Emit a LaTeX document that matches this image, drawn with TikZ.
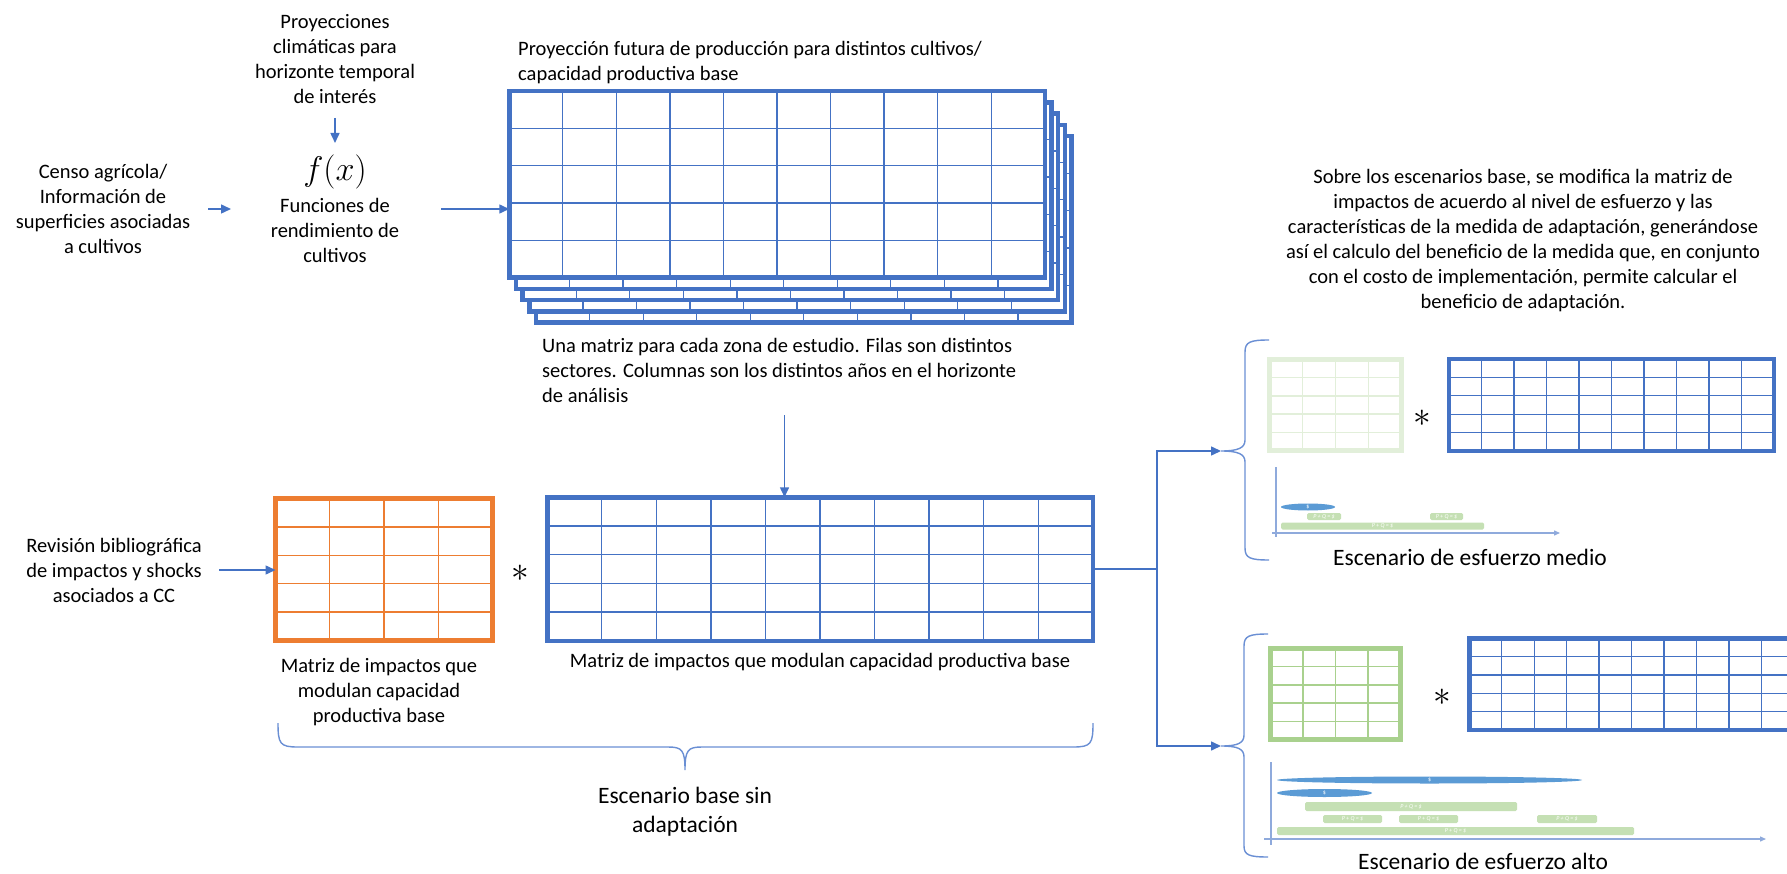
\documentclass[tikz,border=0pt]{standalone}
\usepackage{fontspec}
\setmainfont{Carlito}
\usetikzlibrary{arrows.meta,calc,shapes.geometric}
\definecolor{mblue}{HTML}{4472C4}
\definecolor{morange}{HTML}{ED7D31}
\definecolor{mgreen}{HTML}{A9D18E}
\definecolor{mlgreen}{HTML}{E2EFDA}
\definecolor{lblue}{HTML}{6A8FD4}
\definecolor{axblue}{HTML}{8FAADC}
\definecolor{barg}{HTML}{C5E0B4}
\definecolor{ellb}{HTML}{5B9BD5}
% #1 name, #2 colour, #3 x1, #4 y1, #5 x2, #6 y2, #7 cols, #8 rows, #9 border width
\newcommand{\gridmat}[9]{%
 \pgfmathsetmacro\gmcx{(#3+#5)/2}%
 \pgfmathsetmacro\gmcy{(#4+#6)/2}%
 \pgfmathsetmacro\gmw{#5-#3-#9}%
 \pgfmathsetmacro\gmh{#6-#4-#9}%
 \pgfmathtruncatemacro\gmc{#7-1}%
 \pgfmathtruncatemacro\gmr{#8-1}%
 \node[draw=#2, fill=white, line width=#9pt, minimum width=\gmw pt, minimum height=\gmh pt, inner sep=0pt, outer sep=0pt] (#1) at (\gmcx,\gmcy) {};
 \foreach \gmi in {1,...,\gmc} \draw[draw=#2, line width=1.3pt] ($(#1.north west)!\gmi/#7!(#1.north east)$) -- ($(#1.south west)!\gmi/#7!(#1.south east)$);
 \foreach \gmi in {1,...,\gmr} \draw[draw=#2, line width=1.3pt] ($(#1.north west)!\gmi/#8!(#1.south west)$) -- ($(#1.north east)!\gmi/#8!(#1.south east)$);
 \draw[draw=#2, line width=#9pt] (#1.north west) rectangle (#1.south east);
}
\tikzset{
 txt/.style={font=\fontsize{20.5}{25}\selectfont, align=center, inner sep=0pt},
 bigtxt/.style={font=\fontsize{23.5}{28.7}\selectfont, align=center, inner sep=0pt},
 conn/.style={draw=mblue, line width=1.5pt},
 arr/.style={conn, -{Triangle[length=10pt,width=9pt]}},
 bracel/.style={draw=lblue, line width=1.4pt},
 axisl/.style={draw=axblue, line width=1.3pt},
 axisarr/.style={axisl, -{Triangle[length=6pt,width=5pt]}},
 bar/.style={rectangle, fill=barg, rounded corners=1.5pt, inner sep=0pt, text=white, font=\fontsize{6}{6}\selectfont\itshape},
 ell/.style={ellipse, fill=ellb, inner sep=0pt, text=white, font=\fontsize{6}{6}\selectfont},
 astx/.style={inner sep=0pt, font=\fontsize{20}{20}\selectfont, scale=1.7},
}
\begin{document}
\begin{tikzpicture}[x=1pt,y=-1pt]
\useasboundingbox (0,0) rectangle (1787,874);
\clip (0,0) rectangle (1787,874);
\fill[white] (0,0) rectangle (1787,874);

% ---------- top left texts ----------
\node[txt] (proy) at (335,59.5) {Proyecciones\\climáticas para\\horizonte temporal\\de interés};
\node[inner sep=0pt, font=\fontsize{20}{20}\selectfont, scale=1.65] (fx) at (335,172) {$f(x)$};
\node[txt] (func) at (335,230) {Funciones de\\rendimiento de\\cultivos};
\node[txt] (censo) at (103,208.5) {Censo agrícola/\\Información de\\superficies asociadas\\a cultivos};

\coordinate (a2s) at (335,118);
\coordinate (a2e) at (335,143);
\draw[arr] (a2s) -- (a2e);
\coordinate (a1s) at (208,209);
\coordinate (a1e) at (231,209);
\draw[arr] (a1s) -- (a1e);

% ---------- stacked matrices ----------
\foreach \L in {4,3,2,1,0} {
  \pgfmathsetmacro\ax{507+6.7*\L}
  \pgfmathsetmacro\ay{89+11.25*\L}
  \pgfmathsetmacro\bx{1047+6.7*\L}
  \pgfmathsetmacro\by{280+11.25*\L}
  \gridmat{top\L}{mblue}{\ax}{\ay}{\bx}{\by}{10}{5}{4.5}
}
\coordinate (a3s) at (441,209);
\draw[arr] (a3s) -- (top0.west |- a3s);

\node[txt, anchor=west, align=left] (projtxt) at (518,62.5) {Proyección futura de producción para distintos cultivos/\\capacidad productiva base};
\node[txt, anchor=west, align=left] (unatxt) at (542,370) {Una matriz para cada zona de estudio. Filas son distintos\\sectores. Columnas son los distintos años en el horizonte\\de análisis};

% ---------- base scenario ----------
\gridmat{orange}{morange}{273}{496}{495}{643}{4}{5}{5}
\gridmat{base}{mblue}{545}{495}{1095}{643}{10}{5}{4.5}
\coordinate (a4s) at (784.5,415);
\draw[arr] (a4s) -- (a4s |- base.north);
\node[txt] (rev) at (114,570) {Revisión bibliográfica\\de impactos y shocks\\asociados a CC};
\coordinate (a5s) at (219,570);
\draw[arr] (a5s) -- (orange.west |- a5s);
\node[astx] (ast1) at (520,573) {$\ast$};
\node[txt] (matimp) at (379,692) {Matriz de impactos que\\modulan capacidad\\productiva base};
\node[txt] (basecap) at (820,662) {Matriz de impactos que modulan capacidad productiva base};

\draw[bracel] (278,723) .. controls (278,744) and (280,747) .. (298,747) -- (668,747) .. controls (682,747) and (685,750) .. (685,770)
  .. controls (685,750) and (688,747) .. (702,747) -- (1073,747) .. controls (1091,747) and (1093,744) .. (1093,723);
\node[bigtxt] (escbase) at (685,812) {Escenario base sin\\adaptación};

% ---------- connectors to scenarios ----------
\coordinate (split) at (1157,569);
\coordinate (mtip) at (1221,451);
\coordinate (htip) at (1221,746);
\draw[conn] (base.east |- split) -- (split);
\draw[arr] (split) |- (mtip);
\draw[arr] (split) |- (htip);

\node[txt] (sobre) at (1523,240.5) {Sobre los escenarios base, se modifica la matriz de\\impactos de acuerdo al nivel de esfuerzo y las\\características de la medida de adaptación, generándose\\así el calculo del beneficio de la medida que, en conjunto\\con el costo de implementación, permite calcular el\\beneficio de adaptación.};

% ---------- medium scenario ----------
\draw[bracel] (1269,340) .. controls (1250,340) and (1245,342) .. (1245,352) -- (1245,440) .. controls (1245,448) and (1238,451) .. (mtip)
  .. controls (1238,451) and (1245,454) .. (1245,462) -- (1245,548) .. controls (1245,558) and (1250,560) .. (1269,560);
\gridmat{mgr}{mlgreen}{1267}{357}{1404}{453}{4}{5}{5}
\gridmat{mbl}{mblue}{1447}{357}{1776}{453}{10}{5}{4}
\node[astx] (ast2) at (1422,418) {$\ast$};
\coordinate (mtop) at (1276,467);
\coordinate (mbot) at (1276,537);
\coordinate (mxl) at (1272,533);
\coordinate (mxr) at (1560,533);
\draw[axisl] (mtop) -- (mbot);
\draw[axisarr] (mxl) -- (mxr);
\node[ell, minimum width=54pt, minimum height=7pt] (me1) at (1308,507) {\$};
\node[bar, minimum width=34pt, minimum height=7pt] (mb1) at (1324,516.5) {P + Q = \$};
\node[bar, minimum width=33pt, minimum height=7pt] (mb2) at (1446.5,516.5) {P + Q = \$};
\node[bar, minimum width=203pt, minimum height=7pt] (mb3) at (1382.5,526) {P + Q = \$};
\node[bigtxt] (escmed) at (1470,557) {Escenario de esfuerzo medio};

% ---------- high scenario ----------
\draw[bracel] (1268,634) .. controls (1249,634) and (1244,636) .. (1244,646) -- (1244,735) .. controls (1244,743) and (1238,746) .. (htip)
  .. controls (1238,746) and (1244,749) .. (1244,757) -- (1244,846) .. controls (1244,855) and (1249,857) .. (1268,857);
\gridmat{hgr}{mgreen}{1268}{646}{1403}{742}{4}{5}{5}
\gridmat{hbl}{mblue}{1467}{636}{1796}{732}{10}{5}{4.5}
\node[astx] (ast3) at (1442,697) {$\ast$};
\coordinate (htop) at (1271,762);
\coordinate (hbot) at (1271,845);
\coordinate (hxl) at (1264,839);
\coordinate (hxr) at (1766,839);
\draw[axisl] (htop) -- (hbot);
\draw[axisarr] (hxl) -- (hxr);
\node[ell, minimum width=305pt, minimum height=7pt] (he1) at (1429.5,780) {\$};
\node[ell, minimum width=95pt, minimum height=8pt] (he2) at (1324.5,793) {\$};
\node[bar, minimum width=212pt, minimum height=9pt] (hb1) at (1411,806.5) {P + Q = \$};
\node[bar, minimum width=59pt, minimum height=8pt] (hb2) at (1352.5,819) {P + Q = \$};
\node[bar, minimum width=59pt, minimum height=8pt] (hb3) at (1428.5,819) {P + Q = \$};
\node[bar, minimum width=60pt, minimum height=8pt] (hb4) at (1567,819) {P + Q = \$};
\node[bar, minimum width=357pt, minimum height=8pt] (hb5) at (1455.5,831) {P + Q = \$};
\node[bigtxt] (escalt) at (1483,861) {Escenario de esfuerzo alto};
\end{tikzpicture}
\end{document}
